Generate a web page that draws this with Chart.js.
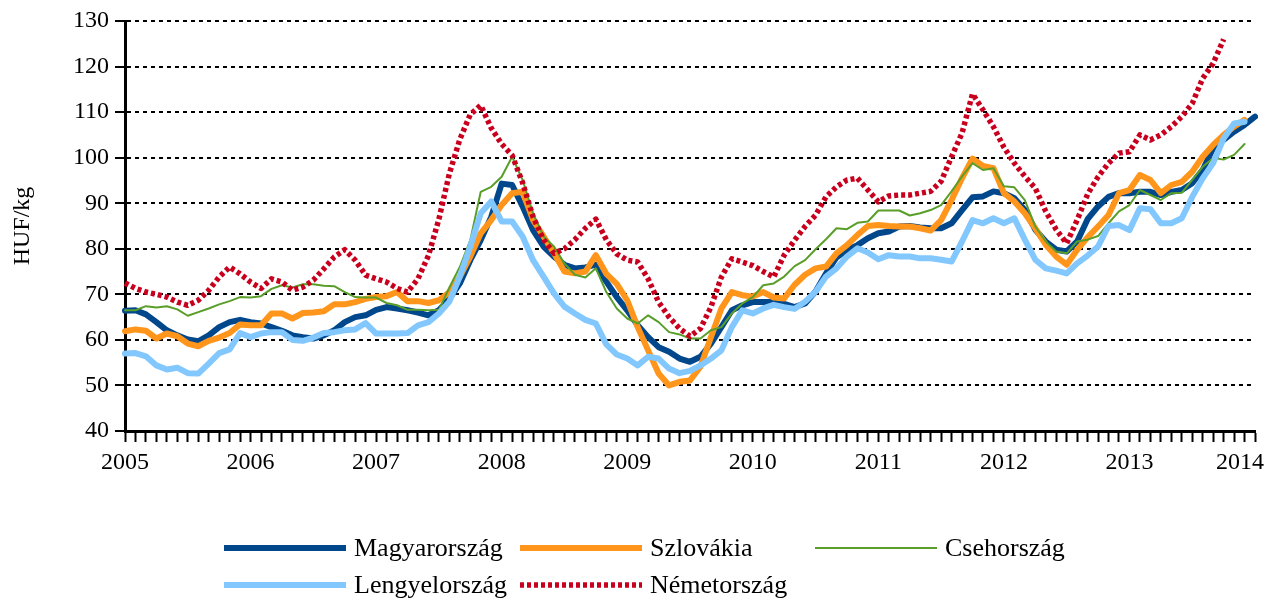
<!DOCTYPE html>
<html>
<head>
<meta charset="utf-8">
<script src="https://cdn.jsdelivr.net/npm/chart.js@4.4.1/dist/chart.umd.min.js"></script>
<style>
  body { margin: 0; background: #fff; }
  #wrap { position: relative; width: 1273px; height: 600px; }
  #legend { position: absolute; left: 0; top: 0; width: 1273px; height: 600px; pointer-events: none;
            font-family: 'Liberation Serif', 'Times New Roman', serif; font-size: 26px; color: #000; }
  .item { position: absolute; display: flex; align-items: center; height: 30px; margin-top: -15px; white-space: nowrap; }
  .item svg { margin-right: 8px; }
</style>
</head>
<body>
<div id="wrap">
  <canvas id="chart" width="1273" height="600"></canvas>
  <div id="legend"></div>
</div>
<script>
// years on the axis, one category per month Jan 2005 .. Jan 2014
const years = ['2005', '2006', '2007', '2008', '2009', '2010', '2011', '2012', '2013', '2014'];
const months = [];
for (let y = 0; y < years.length; y++) {
    for (let m = 1; m <= 12; m++) {
        if (y === years.length - 1 && m > 1) break;
        months.push(years[y] + '-' + String(m).padStart(2, '0'));
    }
}

const seriesNames = ['Magyarország', 'Szlovákia', 'Csehország', 'Lengyelország', 'Németország'];

// HUF/kg, monthly
const hu = [
    66.4, 66.5, 65.6, 63.9, 62.1, 61.0, 60.1, 59.7, 61.0, 62.8, 63.9, 64.4,
    63.9, 63.6, 62.8, 62.0, 61.0, 60.6, 60.3, 61.0, 62.1, 63.9, 65.0, 65.4,
    66.6, 67.2, 66.9, 66.5, 66.0, 65.4, 66.5, 69.0, 72.4, 77.5, 81.9, 87.0,
    94.3, 94.0, 89.3, 84.1, 80.5, 78.3, 76.5, 75.7, 75.9, 76.5, 72.8, 69.4,
    66.5, 63.2, 60.6, 58.4, 57.4, 55.9, 55.2, 56.3, 59.2, 62.8, 66.5, 67.6,
    68.3, 68.3, 68.3, 67.9, 67.2, 68.0, 70.6, 74.6, 78.1, 79.7, 80.8, 82.3,
    83.4, 83.8, 84.9, 85.0, 84.7, 84.5, 84.5, 85.6, 88.5, 91.3, 91.5, 92.6,
    92.2, 91.1, 88.5, 84.2, 81.6, 79.8, 79.4, 81.6, 86.5, 89.3, 91.4, 92.2,
    92.2, 92.5, 92.5, 91.8, 92.5, 92.9, 94.4, 97.3, 102.1, 103.9, 105.7, 107.2,
    109.0
];
const sk = [
    61.9, 62.3, 62.0, 60.3, 61.4, 60.8, 59.2, 58.6, 59.8, 60.5, 61.5, 63.4,
    63.2, 63.2, 65.8, 65.8, 64.7, 65.9, 66.0, 66.3, 67.8, 67.8, 68.3, 69.0,
    69.4, 69.6, 70.5, 68.5, 68.5, 68.1, 68.7, 70.5, 73.9, 78.3, 83.4, 86.3,
    89.6, 92.2, 92.5, 86.3, 82.7, 79.0, 75.0, 74.6, 75.0, 78.6, 74.5, 72.3,
    68.7, 62.8, 57.7, 52.6, 50.0, 50.8, 51.1, 54.1, 60.6, 66.9, 70.5, 69.8,
    69.5, 70.5, 69.3, 69.1, 72.1, 74.3, 75.7, 76.1, 79.0, 80.8, 83.0, 85.0,
    85.2, 85.0, 84.9, 84.9, 84.5, 84.0, 86.3, 90.7, 95.5, 99.8, 98.2, 97.7,
    92.2, 90.4, 87.8, 84.5, 80.9, 78.3, 76.5, 79.8, 82.5, 84.9, 87.4, 92.2,
    92.9, 96.2, 95.1, 92.2, 94.0, 94.7, 96.9, 100.2, 102.8, 105.0, 106.8, 108.3,
    null
];
const cz = [
    66.5, 66.5, 67.4, 67.1, 67.4, 66.7, 65.3, 66.1, 66.9, 67.8, 68.5, 69.4,
    69.3, 69.6, 71.2, 72.0, 71.5, 72.2, 72.2, 71.9, 71.8, 70.5, 69.4, 69.3,
    69.3, 68.1, 67.6, 66.6, 66.6, 66.5, 66.6, 71.5, 76.0, 81.9, 92.5, 93.6,
    95.8, 100.2, 95.1, 87.8, 82.7, 80.5, 76.8, 74.3, 73.7, 75.7, 70.5, 66.9,
    64.7, 63.6, 65.4, 63.9, 61.7, 61.2, 60.3, 60.3, 62.1, 62.8, 65.8, 68.0,
    69.4, 72.0, 72.4, 73.9, 76.2, 77.5, 79.9, 82.1, 84.5, 84.3, 85.7, 86.0,
    88.4, 88.4, 88.4, 87.3, 87.8, 88.5, 89.6, 92.6, 95.9, 98.8, 97.3, 97.7,
    93.7, 93.5, 90.7, 84.9, 81.6, 79.4, 79.0, 81.6, 82.0, 82.8, 85.6, 88.2,
    89.6, 92.9, 91.8, 90.7, 92.2, 92.3, 95.1, 98.0, 99.9, 99.6, 100.6, 103.0,
    null
];
const pl = [
    57.0, 57.1, 56.4, 54.4, 53.5, 53.9, 52.7, 52.6, 54.8, 57.1, 57.9, 61.5,
    60.6, 61.4, 61.7, 61.7, 60.0, 59.8, 60.5, 61.5, 61.7, 62.1, 62.3, 63.7,
    61.4, 61.4, 61.4, 61.5, 63.2, 63.9, 65.8, 68.4, 73.9, 80.5, 87.8, 90.4,
    86.0, 86.0, 82.7, 77.5, 73.9, 70.2, 67.3, 65.8, 64.4, 63.6, 59.0, 56.8,
    55.9, 54.4, 56.3, 55.9, 53.7, 52.7, 53.2, 54.4, 55.9, 57.7, 62.8, 66.5,
    65.8, 66.9, 67.7, 67.2, 66.8, 68.4, 70.6, 73.9, 75.7, 78.3, 80.1, 79.2,
    77.7, 78.6, 78.3, 78.3, 77.9, 77.9, 77.6, 77.2, 81.6, 86.3, 85.6, 86.7,
    85.6, 86.7, 82.0, 77.6, 75.7, 75.2, 74.6, 76.8, 78.5, 80.5, 85.0, 85.2,
    84.1, 88.9, 88.7, 85.6, 85.6, 86.7, 91.4, 95.5, 98.8, 104.2, 107.5, 107.9,
    null
];
const de = [
    72.5, 71.3, 70.5, 70.0, 69.4, 68.3, 67.6, 68.7, 70.9, 73.8, 76.0, 74.5,
    72.7, 71.3, 73.4, 72.7, 70.9, 71.6, 73.1, 75.6, 78.2, 79.8, 77.5, 74.2,
    73.4, 72.7, 71.3, 70.5, 73.4, 78.5, 86.5, 96.5, 104.0, 109.5, 111.5, 106.5,
    103.0, 100.5, 94.5, 87.0, 82.0, 79.0, 80.0, 82.0, 84.5, 86.5, 82.0, 78.9,
    77.5, 77.1, 73.4, 68.3, 65.0, 62.5, 60.8, 62.5, 67.2, 73.8, 77.8, 77.1,
    76.3, 75.0, 73.8, 78.6, 81.9, 84.9, 87.4, 91.4, 93.6, 95.1, 95.5, 92.9,
    90.3, 91.6, 91.8, 91.8, 92.2, 92.6, 94.8, 100.2, 105.4, 114.0, 110.5, 106.8,
    102.3, 98.8, 95.9, 93.3, 88.2, 84.2, 81.2, 86.3, 92.0, 95.8, 98.8, 101.0,
    101.3, 105.0, 103.9, 105.0, 106.8, 109.0, 111.9, 117.4, 120.7, 126.0, null, null,
    null
];

const yTicks = [40, 50, 60, 70, 80, 90, 100, 110, 120, 130];

const colors = ['#00478C', '#FF951A', '#5A9E2A', '#82C8FF', '#C8001E'];
const widths = [6, 6, 2, 6, 5.5];
const dashes = [[], [], [], [], [4, 3]];
const drawOrder = [5, 4, 3, 2, 1];   // németország on top
const allData = [hu, sk, cz, pl, de];

const serif = "'Liberation Serif', 'Times New Roman', serif";

const datasets = seriesNames.map((name, i) => ({
    label: name,
    data: allData[i],
    borderColor: colors[i],
    backgroundColor: colors[i],
    borderWidth: widths[i],
    borderDash: dashes[i],
    borderCapStyle: dashes[i].length ? 'butt' : 'round',
    borderJoinStyle: 'round',
    pointRadius: 0,
    tension: 0,
    fill: false,
    order: drawOrder[i]
}));

new Chart(document.getElementById('chart').getContext('2d'), {
    type: 'line',
    data: { labels: months, datasets: datasets },
    options: {
        responsive: false,
        animation: false,
        layout: { padding: { left: 0, right: 18, top: 21, bottom: 0 } },
        plugins: { legend: { display: false }, tooltip: { enabled: false } },
        scales: {
            x: {
                type: 'category',
                offset: false,
                grid: { drawOnChartArea: false, drawTicks: true, tickLength: 11, tickColor: '#000', tickWidth: 2 },
                border: { color: '#000', width: 3 },
                ticks: {
                    autoSkip: false, maxRotation: 0, minRotation: 0, padding: 6,
                    color: '#000', font: { family: serif, size: 24 },
                    callback: (v, i) => {
                        if (i % 12 !== 0) return '';
                        const y = years[i / 12];
                        return i === months.length - 1 ? y + '\u00a0\u00a0\u00a0\u00a0\u00a0' : y;
                    }
                },
                afterFit: s => { s.height = 169; s.paddingLeft = 0; s.paddingRight = 0; }
            },
            y: {
                min: 40, max: 130,
                afterBuildTicks: s => { s.ticks = yTicks.map(v => ({ value: v })); },
                grid: { color: '#000', lineWidth: 2, tickLength: 10, tickColor: '#000', tickWidth: 2, tickBorderDash: [] },
                border: { color: '#000', width: 3, dash: [4, 4] },
                ticks: { color: '#000', padding: 6, font: { family: serif, size: 24 } },
                title: { display: true, text: 'HUF/kg', color: '#000', font: { family: serif, size: 24 }, padding: { top: 8, bottom: 0 } },
                afterFit: s => { s.width = 125; }
            }
        }
    }
});

// legend below the plot, two rows
const legendSlots = [[224, 548], [520, 548], [815, 548], [224, 585], [520, 585]];
const legendLen = 122;
const legend = document.getElementById('legend');
seriesNames.forEach((name, i) => {
    const el = document.createElement('div');
    el.className = 'item';
    el.style.left = legendSlots[i][0] + 'px';
    el.style.top = legendSlots[i][1] + 'px';
    const dash = dashes[i].length ? ' stroke-dasharray="4 3"' : '';
    el.innerHTML = '<svg width="' + legendLen + '" height="12"><line x1="0" y1="6" x2="' + legendLen + '" y2="6" stroke="' +
        colors[i] + '" stroke-width="' + Math.min(widths[i], 6) + '"' + dash + '/></svg><span>' + name + '</span>';
    legend.appendChild(el);
});
</script>
</body>
</html>
